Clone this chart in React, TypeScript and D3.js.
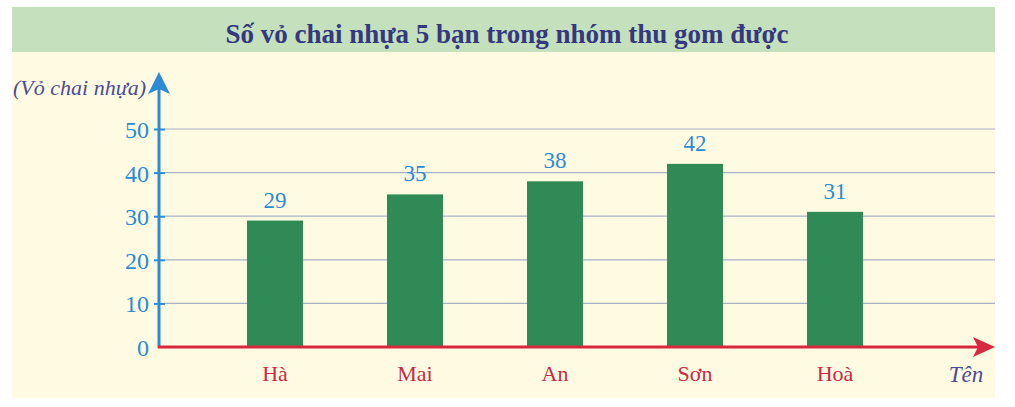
import * as d3 from "d3";
import { useEffect, useRef } from "react";

const names = ["Hà", "Mai", "An", "Sơn", "Hoà"];
const bottles = [29, 35, 38, 42, 31];
const yTicks = [0, 10, 20, 30, 40, 50];
const title = "Số vỏ chai nhựa 5 bạn trong nhóm thu gom được";
const yLabel = "(Vỏ chai nhựa)";
const xLabel = "Tên";

const W = 1015;
const H = 407;

export default function App() {
  const ref = useRef<SVGSVGElement>(null);

  useEffect(() => {
    if (!ref.current) return;
    const svg = d3.select(ref.current);
    svg.selectAll("*").remove();

    const font = "'Liberation Serif', 'DejaVu Serif', serif";
    const blue = "#2b8bd6";
    const red = "#d8283f";
    const navy = "#4b4b98";

    // khung nền
    svg.append("rect").attr("x", 12).attr("y", 7).attr("width", 983).attr("height", 391).attr("fill", "#fefbe2");
    svg.append("rect").attr("x", 12).attr("y", 7).attr("width", 983).attr("height", 45).attr("fill", "#c4e0bd");
    svg
      .append("text")
      .attr("x", 507)
      .attr("y", 43)
      .attr("text-anchor", "middle")
      .attr("font-family", font)
      .attr("font-weight", "bold")
      .attr("font-size", 27)
      .attr("fill", "#33387f")
      .text(title);

    const x = d3.scaleBand().domain(names).range([205, 905]).paddingInner(0.6).paddingOuter(0.3);
    const y = d3.scaleLinear().domain([0, 50]).range([347, 129]);
    const x0 = 159;

    // lưới
    svg
      .append("g")
      .selectAll("line")
      .data(yTicks.filter((t) => t > 0))
      .join("line")
      .attr("x1", x0 + 6)
      .attr("x2", 995)
      .attr("y1", (d) => y(d))
      .attr("y2", (d) => y(d))
      .attr("stroke", "#a9b0c6")
      .attr("stroke-width", 1.2);

    // cột
    svg
      .append("g")
      .selectAll("rect")
      .data(bottles)
      .join("rect")
      .attr("x", (_, i) => x(names[i])!)
      .attr("y", (d) => y(d))
      .attr("width", x.bandwidth())
      .attr("height", (d) => y(0) - y(d))
      .attr("fill", "#2f8a55");

    svg
      .append("g")
      .selectAll("text")
      .data(bottles)
      .join("text")
      .attr("x", (_, i) => x(names[i])! + x.bandwidth() / 2)
      .attr("y", (d) => y(d) - 13)
      .attr("text-anchor", "middle")
      .attr("font-family", font)
      .attr("font-size", 23)
      .attr("fill", blue)
      .text((d) => d);

    // trục Y
    const yAxis = svg
      .append("g")
      .attr("transform", `translate(${x0},0)`)
      .call(d3.axisLeft(y).tickValues(yTicks).tickSize(6).tickPadding(8).tickFormat(d3.format("d")));
    yAxis.select(".domain").remove();
    yAxis.selectAll(".tick line").attr("stroke", blue).attr("stroke-width", 2).attr("x2", 6).attr("x1", -5);
    yAxis
      .selectAll(".tick text")
      .attr("font-family", font)
      .attr("font-size", 24)
      .attr("fill", blue)
      .attr("x", -10)
      .attr("dy", "0.35em");
    yAxis.select(".tick:first-of-type line").remove();

    svg.append("line").attr("x1", x0).attr("x2", x0).attr("y1", y(0) + 1).attr("y2", 88).attr("stroke", blue).attr("stroke-width", 3);
    svg.append("path").attr("d", `M${x0},72 L${x0 + 11},94 L${x0},89 L${x0 - 11},94 Z`).attr("fill", blue);

    // trục X
    svg.append("line").attr("x1", x0 - 1).attr("x2", 984).attr("y1", y(0)).attr("y2", y(0)).attr("stroke", red).attr("stroke-width", 3);
    svg
      .append("path")
      .attr("d", `M995,${y(0)} L973,${y(0) - 10} L978,${y(0)} L973,${y(0) + 10} Z`)
      .attr("fill", red);

    svg
      .append("g")
      .selectAll("text")
      .data(names)
      .join("text")
      .attr("x", (d) => x(d)! + x.bandwidth() / 2)
      .attr("y", 381)
      .attr("text-anchor", "middle")
      .attr("font-family", font)
      .attr("font-size", 22)
      .attr("fill", "#c92a45")
      .text((d) => d);

    svg
      .append("text")
      .attr("x", 146)
      .attr("y", 95)
      .attr("text-anchor", "end")
      .attr("font-family", font)
      .attr("font-style", "italic")
      .attr("font-size", 22)
      .attr("fill", navy)
      .text(yLabel);

    svg
      .append("text")
      .attr("x", 966)
      .attr("y", 382)
      .attr("text-anchor", "middle")
      .attr("font-family", font)
      .attr("font-style", "italic")
      .attr("font-size", 23)
      .attr("fill", navy)
      .text(xLabel);
  }, []);

  return (
    <svg
      ref={ref}
      width={W}
      height={H}
      style={{ position: "absolute", left: 0, top: 0, background: "#fff" }}
    ></svg>
  );
}
